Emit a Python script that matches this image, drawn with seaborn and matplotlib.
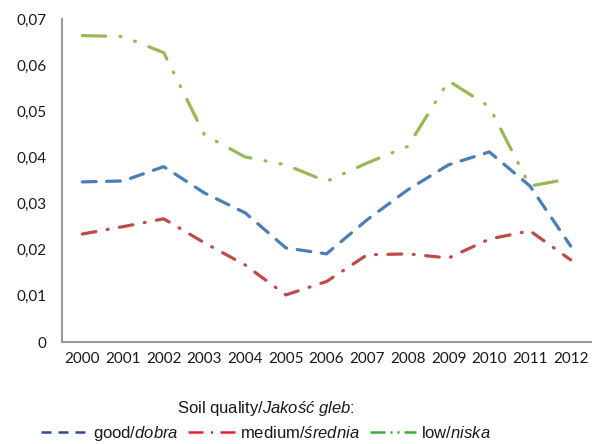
import matplotlib
matplotlib.use("Agg")
import matplotlib.pyplot as plt
from matplotlib.lines import Line2D
import seaborn as sns
import pandas as pd

# Soil erosion index by soil quality class, 2000-2012
years = ["2000", "2001", "2002", "2003", "2004", "2005", "2006",
         "2007", "2008", "2009", "2010", "2011", "2012"]
good = [0.0347, 0.0349, 0.0380, 0.0323, 0.0280, 0.0204, 0.0191,
        0.0265, 0.0330, 0.0384, 0.0412, 0.0338, 0.0208]
medium = [0.0234, 0.0250, 0.0267, 0.0215, 0.0167, 0.0102, 0.0131,
          0.0189, 0.0191, 0.0182, 0.0223, 0.0241, 0.0178]
low = [0.0664, 0.0662, 0.0627, 0.0449, 0.0401, 0.0384, 0.0348,
       0.0388, 0.0424, 0.0566, 0.0510, 0.0338, 0.0354]
series_names = ["good", "medium", "low"]
y_ticks = [0.0, 0.01, 0.02, 0.03, 0.04, 0.05, 0.06, 0.07]
y_tick_labels = ["0", "0,01", "0,02", "0,03", "0,04", "0,05", "0,06", "0,07"]

sns.set_style("white")
plt.rcParams["font.family"] = ["Lato", "DejaVu Sans"]
plt.rcParams["mathtext.fontset"] = "custom"
plt.rcParams["mathtext.it"] = "Liberation Sans:italic"
plt.rcParams["mathtext.rm"] = "Liberation Sans"

rows = []
for name, vals in zip(series_names, [good, medium, low]):
    for i, v in enumerate(vals):
        rows.append({"idx": i, "value": v, "quality": name})
df = pd.DataFrame(rows)

line_colors = {"good": "#4A7EBB", "medium": "#BE4B48", "low": "#98B954"}
line_dashes = {"good": (4.3, 3.3),
               "medium": (4.3, 3.6, 0.3, 3.6),
               "low": (7.3, 4.5, 0.3, 4.5, 0.3, 4.5)}

fig = plt.figure(figsize=(5.92, 4.44), dpi=100)
ax = fig.add_axes([62 / 592, 1 - 342 / 444, (591 - 62) / 592, (342 - 19) / 444])

sns.lineplot(data=df, x="idx", y="value", hue="quality", style="quality",
             palette=line_colors, dashes=line_dashes, linewidth=2.3,
             dash_capstyle="round", ax=ax, legend=False)

ax.set_xlim(-0.5, 12.5)
ax.set_ylim(0, 0.07)
ax.set_yticks(y_ticks)
ax.set_yticklabels(y_tick_labels, fontsize=11, color="#1a1a1a")
ax.set_xticks([i - 0.5 for i in range(14)])
ax.set_xticklabels([])
ax.set_xticks(range(13), minor=True)
ax.set_xticklabels(years, minor=True, fontsize=11, color="#1a1a1a")
ax.tick_params(axis="x", which="major", length=5, width=1.2, color="#9a9a9a", direction="out")
ax.tick_params(axis="x", which="minor", length=0, pad=7)
ax.tick_params(axis="y", length=5, width=1.2, color="#9a9a9a", direction="out", pad=6)
ax.set_xlabel("")
ax.set_ylabel("")
for side in ["top", "right"]:
    ax.spines[side].set_visible(False)
for side in ["left", "bottom"]:
    ax.spines[side].set_color("#9a9a9a")
    ax.spines[side].set_linewidth(1.5)

# Legend with its own colour set
legend_colors = ["#2E4D9C", "#E3232C", "#3DAA3A"]
legend_dashes = [(4.0, 2.8), (6.0, 3.0, 0.8, 3.0), (6.0, 2.0, 0.8, 2.0, 0.8, 2.0)]
handles = [Line2D([0], [0], color=c, lw=1.8, dashes=d)
           for c, d in zip(legend_colors, legend_dashes)]
labels = ["good/$\\mathit{dobra}$", "medium/$\\mathit{średnia}$", "low/$\\mathit{niska}$"]
leg = fig.legend(handles, labels, loc="center", bbox_to_anchor=(266 / 592, 1 - 421 / 444),
                 ncol=3, frameon=False, prop={"family": "Liberation Sans", "size": 12},
                 title="Soil quality/$\\mathit{Jakość\\ gleb}$:",
                 title_fontproperties={"family": "Liberation Sans", "size": 12},
                 handlelength=2.8, handletextpad=0.3, columnspacing=0.6,
                 borderpad=0, labelspacing=0.36)
for t in leg.get_texts():
    t.set_color("#1a1a1a")
leg.get_title().set_color("#1a1a1a")

fig.savefig("out.png", dpi=100)
